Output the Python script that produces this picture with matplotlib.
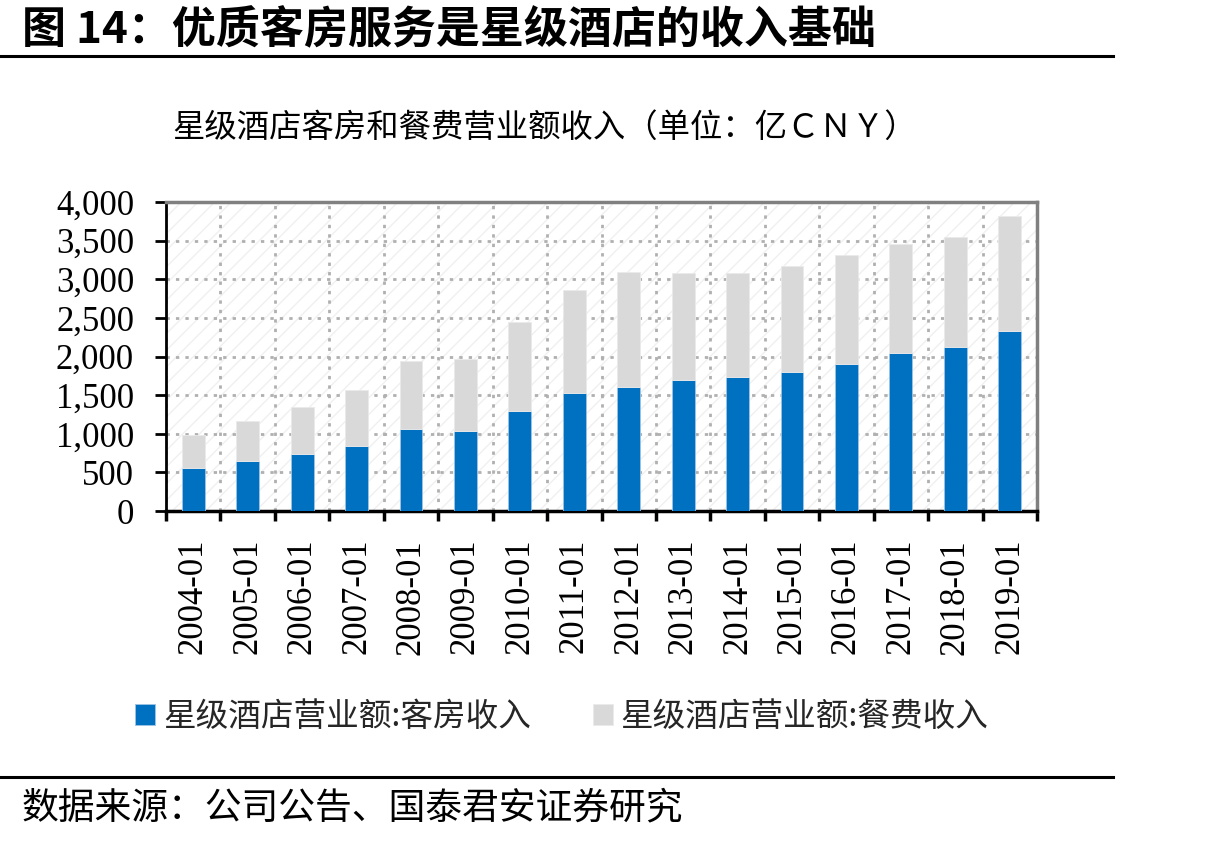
import numpy as np
import matplotlib
matplotlib.use("Agg")
import matplotlib.pyplot as plt
from matplotlib.patches import Rectangle
from matplotlib.lines import Line2D
from matplotlib.ticker import FuncFormatter, FixedLocator

# ---------- data (亿CNY) ----------
periods = ["2004-01", "2005-01", "2006-01", "2007-01", "2008-01", "2009-01",
           "2010-01", "2011-01", "2012-01", "2013-01", "2014-01", "2015-01",
           "2016-01", "2017-01", "2018-01", "2019-01"]
room_rev = [551, 649, 736, 844, 1057, 1039, 1299, 1533, 1607, 1698, 1737, 1802,
            1906, 2049, 2127, 2334]
food_rev = [432, 516, 607, 720, 891, 931, 1152, 1325, 1490, 1386, 1338, 1373,
            1407, 1412, 1416, 1481]
series_names = ["星级酒店营业额:客房收入", "星级酒店营业额:餐费收入"]

TITLE = "图 14：优质客房服务是星级酒店的收入基础"
SUBTITLE = "星级酒店客房和餐费营业额收入（单位：亿ＣＮＹ）"
SOURCE = "数据来源：公司公告、国泰君安证券研究"

BLUE = "#0070C0"
GREY = "#D9D9D9"
CJK = ["Noto Sans CJK SC", "DejaVu Sans"]
NUM = ["Liberation Serif", "DejaVu Serif"]

W, H = 1217, 844
fig = plt.figure(figsize=(W / 100, H / 100), dpi=100)

def fx(px): return px / W
def fy(py): return 1 - py / H

ax = fig.add_axes([fx(166), fy(511), fx(1037) - fx(166), fy(202) - fy(511)])

n = len(periods)
x = np.arange(n)
ax.set_xlim(-0.5, n - 0.5)
ax.set_ylim(0, 4000)

# faint hatched plot background
bg = Rectangle((0, 0), 1, 1, transform=ax.transAxes, facecolor="white",
               edgecolor="#F0F0F0", hatch="//", linewidth=0, zorder=0)
ax.add_patch(bg)

b1 = ax.bar(x, room_rev, width=0.42, color=BLUE, edgecolor="#9DC3E6",
            linewidth=0.6, zorder=3, label=series_names[0])
b2 = ax.bar(x, food_rev, width=0.42, bottom=room_rev, color=GREY,
            edgecolor="#EAEAEA", linewidth=0.6, zorder=3, label=series_names[1])

# y axis
ax.yaxis.set_major_locator(FixedLocator(np.arange(0, 4001, 500)))
ax.yaxis.set_major_formatter(FuncFormatter(lambda v, p: f"{int(v):,}"))
ax.tick_params(axis="y", direction="out", length=8, width=2, pad=15,
               labelsize=25, colors="black")

# x axis: ticks on category boundaries, labels on centres
ax.set_xticks(np.arange(n + 1) - 0.5)
ax.set_xticklabels([])
ax.set_xticks(x, minor=True)
ax.set_xticklabels(periods, minor=True, rotation=90, fontsize=25)
ax.tick_params(axis="x", which="major", direction="out", length=7, width=2.5)
ax.tick_params(axis="x", which="minor", length=0, pad=20)

for lab in ax.get_yticklabels() + ax.get_xticklabels(minor=True):
    lab.set_family(NUM)

ax.grid(True, which="major", color="#B0B0B0", linestyle=(0, (1.2, 2.2)),
        linewidth=2, zorder=1)
ax.set_axisbelow(True)

ax.spines["left"].set_color("black")
ax.spines["left"].set_linewidth(2)
ax.spines["bottom"].set_color("black")
ax.spines["bottom"].set_linewidth(2.5)
for s in ("top", "right"):
    ax.spines[s].set_color("#808080")
    ax.spines[s].set_linewidth(2.5)

# texts
fig.text(fx(22), fy(30), TITLE, family=CJK, fontsize=31.7, fontweight="bold",
         va="center", ha="left")
fig.add_artist(Line2D([0, fx(1113)], [fy(56), fy(56)], color="black", linewidth=2.2))
fig.text(fx(545), fy(128), SUBTITLE, family=CJK, fontsize=23.3, va="center", ha="center")

leg = fig.legend(handles=[b1, b2], labels=series_names, loc="center",
                 bbox_to_anchor=(fx(562), fy(717)), ncol=2, frameon=False,
                 handlelength=0.6, handleheight=0.6, handletextpad=0.25,
                 columnspacing=1.9, prop={"family": CJK, "size": 23.5})
for t in leg.get_texts():
    t.set_color("#262626")

fig.add_artist(Line2D([0, fx(1113)], [fy(777), fy(777)], color="black", linewidth=2.2))
fig.text(fx(22), fy(808), SOURCE, family=CJK, fontsize=26.5, va="center", ha="left")

fig.savefig("out.png", dpi=100)
